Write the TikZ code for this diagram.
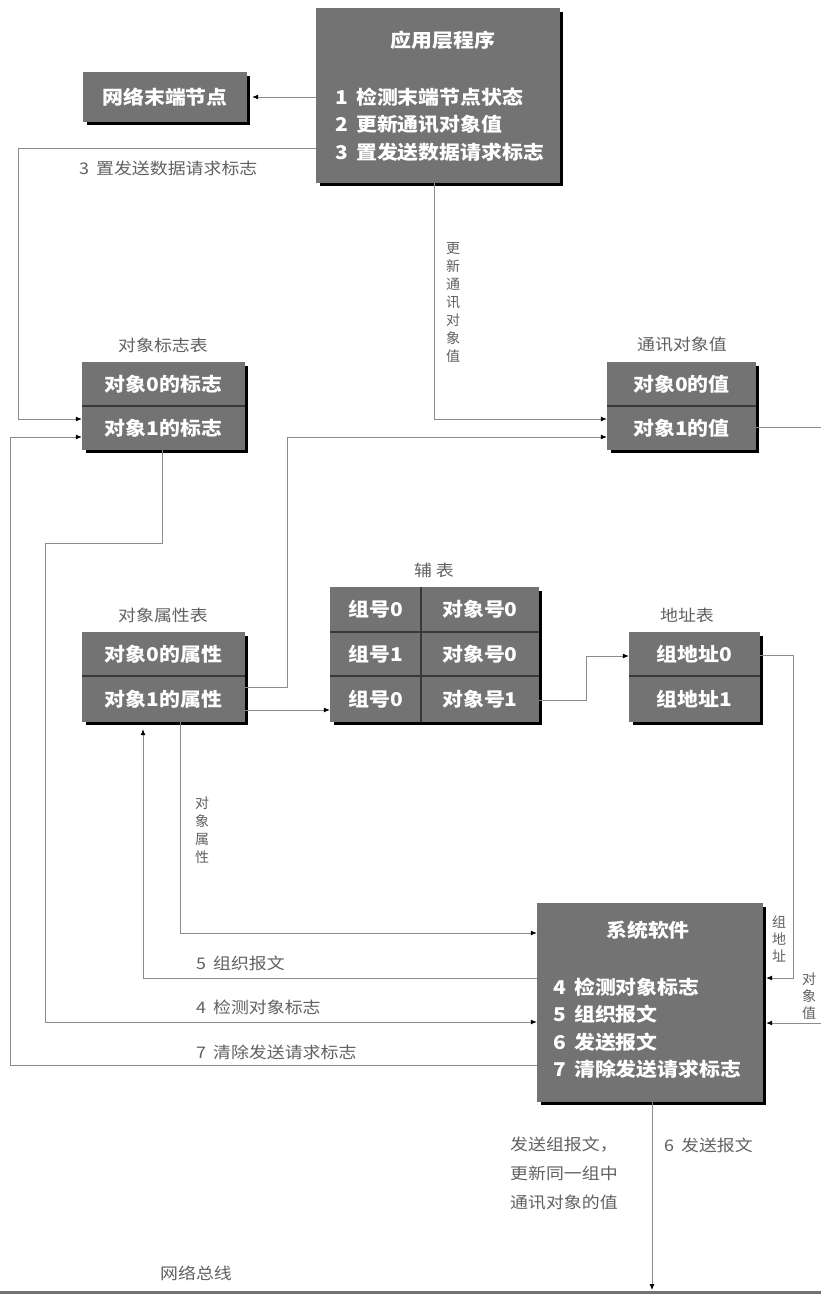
\documentclass[tikz,border=0pt]{standalone}
\usepackage{fontspec}
\usepackage{graphicx}
\newfontfamily\cjk{Noto Sans CJK SC}
\usetikzlibrary{arrows.meta,calc}
\definecolor{panelgray}{gray}{0.45}
\definecolor{linegray}{gray}{0.55}
\definecolor{labelgray}{gray}{0.38}
\definecolor{divgray}{gray}{0.22}
\newcommand{\wx}[1]{\scalebox{1.1}[1]{#1}}
\newcommand{\lx}[1]{\scalebox{1.12}[1]{#1}}
\newcommand{\panelshadow}[3]{\draw[shadowline] ($(#1.north east)+(1.6,4)$) -- ($(#2.south east)+(1.6,1.6)$) -- ($(#3.south west)+(4,1.6)$);}
\begin{document}
\begin{tikzpicture}[x=1pt,y=-1pt,
  panel/.style={fill=panelgray, draw=none, inner sep=0pt, font=\cjk\bfseries\fontsize{19}{22}\selectfont, text=white},
  ptext/.style={inner sep=0pt, font=\cjk\bfseries\fontsize{19}{22}\selectfont, text=white},
  title/.style={inner sep=0pt, font=\cjk\fontsize{16}{18}\selectfont, text=labelgray},
  lab/.style={inner sep=0pt, font=\cjk\fontsize{16}{18}\selectfont, text=labelgray, anchor=west},
  vlab/.style={inner sep=0pt, font=\cjk\fontsize{14}{18}\selectfont, text=labelgray, align=center, anchor=north},
  conn/.style={draw=linegray, line width=0.8pt},
  arr/.style={conn, -{Latex[length=6pt,width=5pt,color=black]}},
  shadowline/.style={draw=black, line width=3.2pt},
  divider/.style={draw=divgray, line width=1.6pt},
  busline/.style={draw=black!55, line width=3pt}]
\useasboundingbox (0,0) rectangle (821,1295);
\fill[white] (0,0) rectangle (821,1295);
\begin{scope}
\clip (0,0) rectangle (821,1295);

% ---------- panels ----------
\node[panel, minimum width=244pt, minimum height=175pt] (app) at (438,95.5) {};
\node[ptext] (appt) at (443,40) {\wx{应用层程序}};
\node[ptext, anchor=west] (app1) at (335,97) {\wx{1\, 检测末端节点状态}};
\node[ptext, anchor=west] (app2) at (335,124) {\wx{2\, 更新通讯对象值}};
\node[ptext, anchor=west] (app3) at (335,152) {\wx{3\, 置发送数据请求标志}};
\panelshadow{app}{app}{app}

\node[panel, minimum width=164pt, minimum height=50pt] (net) at (165,97) {\wx{网络末端节点}};
\panelshadow{net}{net}{net}

\node[title] (flagt) at (163,345) {\lx{对象标志表}};
\node[panel, minimum width=163pt, minimum height=44pt] (flag0) at (163.5,384) {\wx{对象0的标志}};
\node[panel, minimum width=163pt, minimum height=44pt] (flag1) at (163.5,428) {\wx{对象1的标志}};
\draw[divider] (flag0.south west) -- (flag0.south east);
\panelshadow{flag0}{flag1}{flag1}

\node[title] (valt) at (682,345) {\lx{通讯对象值}};
\node[panel, minimum width=149pt, minimum height=44pt] (val0) at (681.5,384) {\wx{对象0的值}};
\node[panel, minimum width=149pt, minimum height=44pt] (val1) at (681.5,428) {\wx{对象1的值}};
\draw[divider] (val0.south west) -- (val0.south east);
\panelshadow{val0}{val1}{val1}

\node[title] (attrt) at (163,615) {\lx{对象属性表}};
\node[panel, minimum width=163pt, minimum height=44pt] (attr0) at (163.5,654) {\wx{对象0的属性}};
\node[panel, minimum width=163pt, minimum height=46pt] (attr1) at (163.5,699) {\wx{对象1的属性}};
\draw[divider] (attr0.south west) -- (attr0.south east);
\panelshadow{attr0}{attr1}{attr1}

\node[title] (auxt) at (434,570) {\lx{辅\ 表}};
\node[panel, minimum width=91pt, minimum height=45pt] (aux1a) at (375.5,609.5) {\wx{组号0}};
\node[panel, minimum width=118pt, minimum height=45pt] (aux1b) at (480,609.5) {\wx{对象号0}};
\node[panel, minimum width=91pt, minimum height=44pt] (aux2a) at (375.5,654) {\wx{组号1}};
\node[panel, minimum width=118pt, minimum height=44pt] (aux2b) at (480,654) {\wx{对象号0}};
\node[panel, minimum width=91pt, minimum height=46pt] (aux3a) at (375.5,699) {\wx{组号0}};
\node[panel, minimum width=118pt, minimum height=46pt] (aux3b) at (480,699) {\wx{对象号1}};
\draw[divider] (aux1a.south west) -- (aux1b.south east);
\draw[divider] (aux2a.south west) -- (aux2b.south east);
\draw[divider] (aux1a.north east) -- (aux3a.south east);
\panelshadow{aux1b}{aux3b}{aux3a}

\node[title] (addrt) at (687,615) {\lx{地址表}};
\node[panel, minimum width=131pt, minimum height=44pt] (addr0) at (694.5,654) {\wx{组地址0}};
\node[panel, minimum width=131pt, minimum height=46pt] (addr1) at (694.5,699) {\wx{组地址1}};
\draw[divider] (addr0.south west) -- (addr0.south east);
\panelshadow{addr0}{addr1}{addr1}

\node[panel, minimum width=226pt, minimum height=199pt] (sys) at (650,1002.5) {};
\node[ptext] (syst) at (648,930) {\wx{系统软件}};
\node[ptext, anchor=west] (sys4) at (553,987) {\wx{4\, 检测对象标志}};
\node[ptext, anchor=west] (sys5) at (553,1014) {\wx{5\, 组织报文}};
\node[ptext, anchor=west] (sys6) at (553,1042) {\wx{6\, 发送报文}};
\node[ptext, anchor=west] (sys7) at (553,1069) {\wx{7\, 清除发送请求标志}};
\panelshadow{sys}{sys}{sys}

% ---------- bend coordinates ----------
\coordinate (k2a) at (18,148);  \coordinate (k2b) at (18,419);
\coordinate (k3) at (434,419);
\coordinate (k4a) at (823,427); \coordinate (k4b) at (823,1023);
\coordinate (k5a) at (162,543); \coordinate (k5b) at (45,543); \coordinate (k5c) at (45,1022);
\coordinate (k6a) at (10,1065); \coordinate (k6b) at (10,437);
\coordinate (k7a) at (287,687); \coordinate (k7b) at (287,437);
\coordinate (k8) at (0,710);
\coordinate (k9a) at (586,700); \coordinate (k9b) at (586,656);
\coordinate (k10a) at (793,655); \coordinate (k10b) at (793,978);
\coordinate (k11) at (180,933);
\coordinate (k12) at (143,978);
\coordinate (k13) at (652,1290);
\coordinate (busL) at (0,1292); \coordinate (busR) at (821,1292);

% ---------- connectors ----------
\draw[arr, shorten >=5pt] (app.west |- net.east) -- (net.east);
\draw[arr] (app.west |- k2a) -- (k2a) -- (k2b) -- (k2b -| flag1.west);
\draw[arr] (app.south -| k3) -- (k3) -- (k3 -| val1.west);
\draw[arr, shorten >=3pt] (val1.east |- k4a) -- (k4a) -- (k4b) -- (k4b -| sys.east);
\draw[arr] (flag1.south -| k5a) -- (k5a) -- (k5b) -- (k5c) -- (k5c -| sys.west);
\draw[arr] (sys.west |- k6a) -- (k6a) -- (k6b) -- (k6b -| flag1.west);
\draw[arr] (attr1.east |- k7a) -- (k7a) -- (k7b) -- (k7b -| val1.west);
\draw[arr] (attr1.east |- k8) -- (aux3a.west |- k8);
\draw[arr] (aux3b.east |- k9a) -- (k9a) -- (k9b) -- (k9b -| addr0.west);
\draw[arr, shorten >=3pt] (addr0.east |- k10a) -- (k10a) -- (k10b) -- (k10b -| sys.east);
\draw[arr] (attr1.south -| k11) -- (k11) -- (k11 -| sys.west);
\draw[arr, shorten >=7pt] (sys.west |- k12) -- (k12) -- (k12 |- attr1.south);
\draw[busline] (busL) -- (busR);
\draw[arr] (sys.south -| k13) -- (k13);

% ---------- labels ----------
\node[lab] (l3) at (79,168) {\lx{3\, 置发送数据请求标志}};
\node[vlab] (lupd) at (453,242) {更\\新\\通\\讯\\对\\象\\值};
\node[vlab] (lattr) at (202,797) {对\\象\\属\\性};
\node[vlab, font=\cjk\fontsize{14}{17}\selectfont] (laddr) at (779,916) {组\\地\\址};
\node[vlab, font=\cjk\fontsize{14}{17}\selectfont] (lval) at (809,973) {对\\象\\值};
\node[lab] (l5) at (196,963) {\lx{5\, 组织报文}};
\node[lab] (l4) at (196,1007) {\lx{4\, 检测对象标志}};
\node[lab] (l7) at (196,1052) {\lx{7\, 清除发送请求标志}};
\node[lab] (lg1) at (510,1145) {\lx{发送组报文，}};
\node[lab] (lg2) at (510,1173) {\lx{更新同一组中}};
\node[lab] (lg3) at (510,1202) {\lx{通讯对象的值}};
\node[lab] (l6) at (664,1145) {\lx{6\, 发送报文}};
\node[lab] (lbus) at (160,1273) {\lx{网络总线}};
\end{scope}
\end{tikzpicture}
\end{document}
